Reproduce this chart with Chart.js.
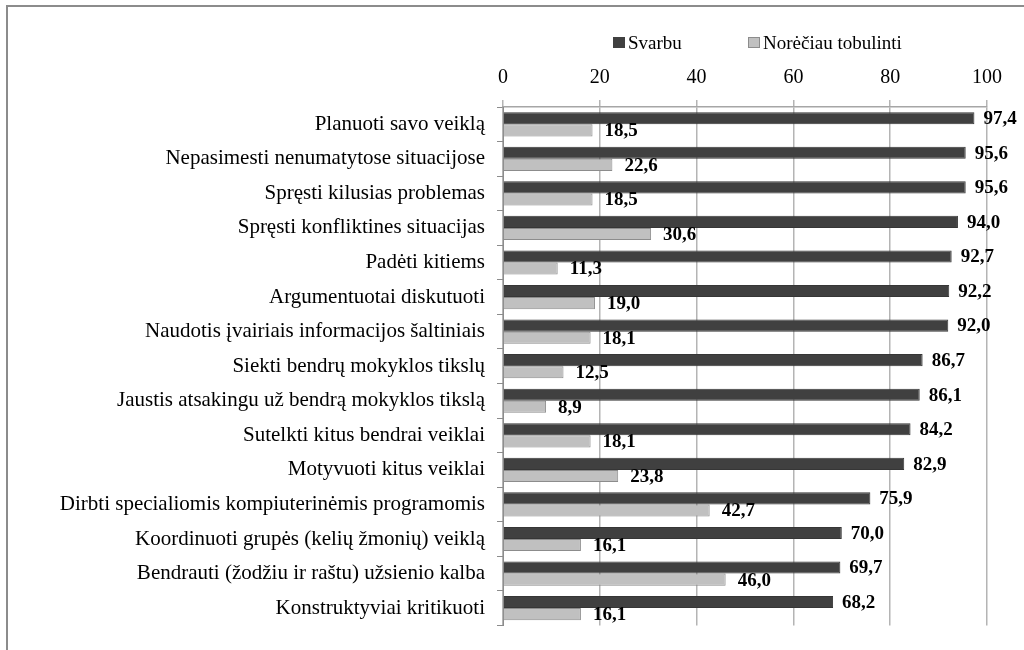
<!DOCTYPE html>
<html>
<head>
<meta charset="utf-8">
<script src="https://cdn.jsdelivr.net/npm/chart.js@4"></script>
<style>
  html, body { margin: 0; padding: 0; background: #fff; }
  #wrap { position: absolute; left: 0; top: 0; width: 1024px; height: 650px; }
  #frame { position: absolute; left: 6px; top: 5px; width: 1040px; height: 670px;
           border-left: 2px solid #8c8c8c; border-top: 2px solid #8c8c8c; pointer-events: none; }
</style>
</head>
<body>
<div id="wrap"><canvas id="chart"></canvas></div>
<div id="frame"></div>
<script>
const categories = [
    'Planuoti savo veiklą',
    'Nepasimesti nenumatytose situacijose',
    'Spręsti kilusias problemas',
    'Spręsti konfliktines situacijas',
    'Padėti kitiems',
    'Argumentuotai diskutuoti',
    'Naudotis įvairiais informacijos šaltiniais',
    'Siekti bendrų mokyklos tikslų',
    'Jaustis atsakingu už bendrą mokyklos tikslą',
    'Sutelkti kitus bendrai veiklai',
    'Motyvuoti kitus veiklai',
    'Dirbti specialiomis kompiuterinėmis programomis',
    'Koordinuoti grupės (kelių žmonių) veiklą',
    'Bendrauti (žodžiu ir raštu) užsienio kalba',
    'Konstruktyviai kritikuoti'
];
const svarbu = [97.4, 95.6, 95.6, 94.0, 92.7, 92.2, 92.0, 86.7, 86.1, 84.2, 82.9, 75.9, 70.0, 69.7, 68.2];
const tobulinti = [18.5, 22.6, 18.5, 30.6, 11.3, 19.0, 18.1, 12.5, 8.9, 18.1, 23.8, 42.7, 16.1, 46.0, 16.1];
const seriesNames = ['Svarbu', 'Norėčiau tobulinti'];

const serif = "'Liberation Serif', 'Times New Roman', serif";

// value labels at the end of each bar
const barLabels = {
    id: 'barLabels',
    afterDatasetsDraw(chart) {
        const ctx = chart.ctx;
        ctx.save();
        ctx.font = 'bold 19px ' + serif;
        ctx.fillStyle = '#000';
        ctx.textAlign = 'left';
        ctx.textBaseline = 'middle';
        chart.data.datasets.forEach((ds, i) => {
            const meta = chart.getDatasetMeta(i);
            meta.data.forEach((bar, j) => {
                const txt = ds.data[j].toFixed(1).replace('.', ',');
                ctx.fillText(txt, bar.x + (i === 0 ? 9 : 12), bar.y + 1);
            });
        });
        ctx.restore();
    }
};

// legend drawn above the axis
const topLegend = {
    id: 'topLegend',
    afterDraw(chart) {
        const ctx = chart.ctx;
        const area = chart.chartArea;
        const y = 43;
        let x = area.left + 110;
        ctx.save();
        ctx.font = '19px ' + serif;
        ctx.textBaseline = 'middle';
        ctx.textAlign = 'left';
        chart.data.datasets.forEach((ds, i) => {
            ctx.fillStyle = ds.backgroundColor;
            ctx.fillRect(x, y - 6, 12, 11);
            if (i === 1) {
                ctx.strokeStyle = ds.borderColor;
                ctx.lineWidth = 1;
                ctx.strokeRect(x + 0.5, y - 5.5, 11, 10);
            }
            ctx.fillStyle = '#000';
            ctx.fillText(ds.label, x + 15, y + 1);
            x += 135;
        });
        ctx.restore();
    }
};

new Chart(document.getElementById('chart'), {
    type: 'bar',
    data: {
        labels: categories,
        datasets: [{
            label: seriesNames[0],
            data: svarbu,
            backgroundColor: '#404040',
            borderColor: '#363636',
            borderWidth: 1,
            categoryPercentage: 0.7,
            barPercentage: 1.0
        }, {
            label: seriesNames[1],
            data: tobulinti,
            backgroundColor: '#c0c0c0',
            borderColor: '#8c8c8c',
            borderWidth: 1,
            categoryPercentage: 0.7,
            barPercentage: 1.0
        }]
    },
    options: {
        indexAxis: 'y',
        responsive: true,
        maintainAspectRatio: false,
        animation: false,
        devicePixelRatio: 1,
        layout: {
            padding: { left: 0, top: 0, right: 37, bottom: 17 }
        },
        scales: {
            x: {
                position: 'top',
                min: 0,
                max: 100,
                ticks: {
                    stepSize: 20,
                    color: '#000',
                    padding: 10,
                    font: { family: serif, size: 20 }
                },
                grid: {
                    color: '#b4b4b4',
                    lineWidth: 1.5,
                    tickLength: 7
                },
                border: { color: '#a6a6a6', width: 1.5 },
                afterFit(scale) { scale.height = 107; }
            },
            y: {
                ticks: {
                    color: '#000',
                    padding: 12,
                    font: { family: serif, size: 21 }
                },
                grid: {
                    offset: true,
                    drawOnChartArea: false,
                    color: '#8c8c8c',
                    tickLength: 6
                },
                border: { color: '#8c8c8c', width: 1 },
                afterFit(scale) { scale.width = 503; }
            }
        },
        plugins: {
            legend: { display: false },
            tooltip: { enabled: false }
        }
    },
    plugins: [barLabels, topLegend]
});
</script>
</body>
</html>
